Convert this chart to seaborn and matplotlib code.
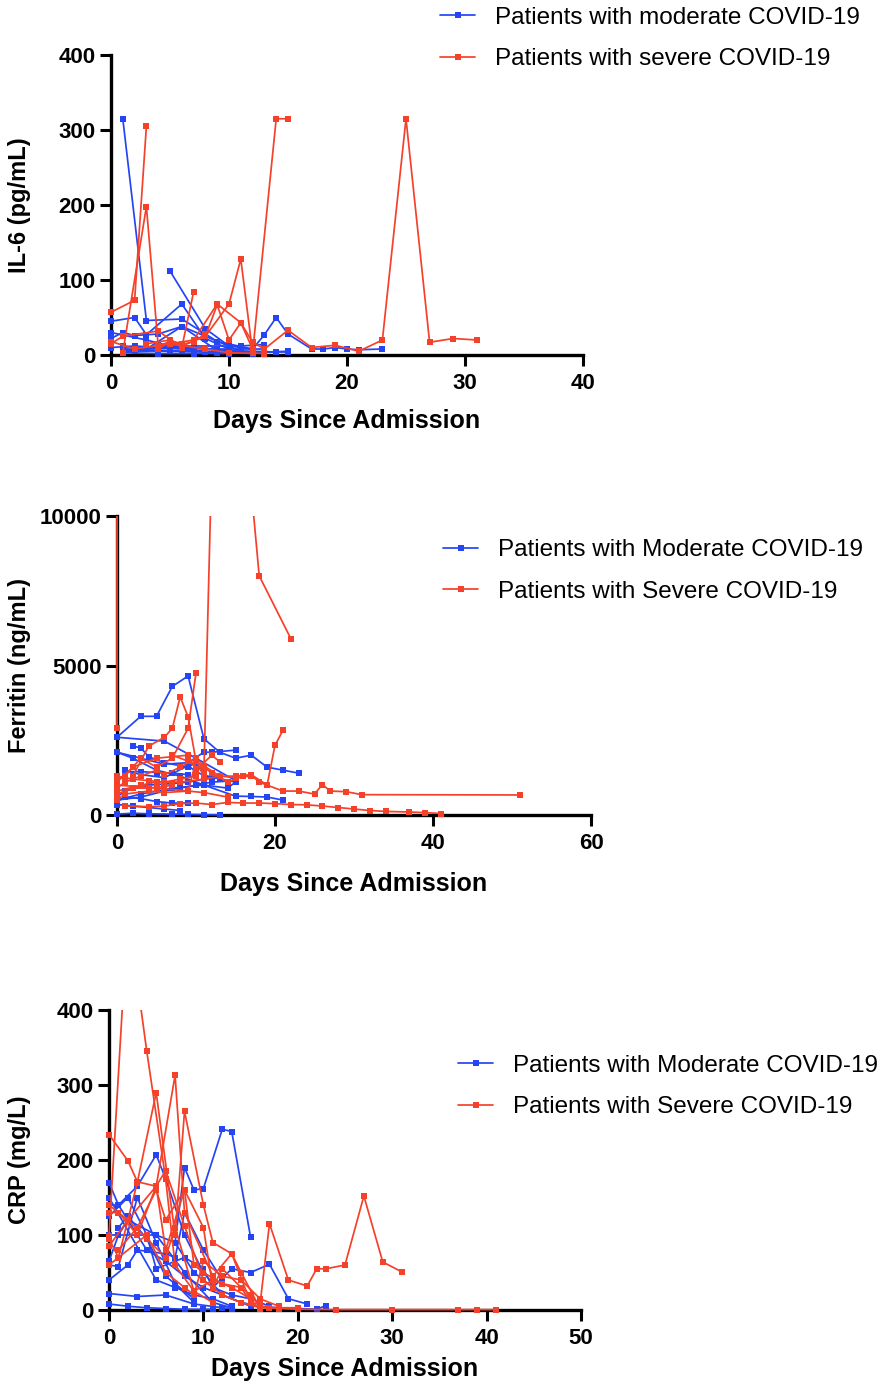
import pandas as pd
import matplotlib
matplotlib.use('Agg')
import matplotlib.pyplot as plt
from matplotlib.lines import Line2D
from matplotlib.transforms import blended_transform_factory, Bbox, TransformedBbox
import seaborn as sns

# ---- data: one inner list per patient (days since admission / measured value) ----
il6_mod_days = [[1, 3, 6, 9, 12], [5, 8, 10, 12, 13, 14, 15, 17, 18, 19, 20, 21, 23],
                [0, 2, 3, 6, 8, 10], [0, 1, 2, 4, 6, 9], [1, 6, 11, 13], [1, 5, 9, 13],
                [1, 4, 7, 10, 15], [2, 6, 10, 14], [0, 3, 5, 7, 10], [1, 3, 6, 8, 11],
                [4, 7, 9, 12], [1, 3, 5, 7, 9, 11, 13], [1, 2, 4, 6, 8, 10, 12, 13],
                [0, 2, 4, 6, 8], [1, 4, 8, 12, 15]]
il6_mod_vals = [[315, 46, 48, 18, 8], [112, 35, 12, 8, 27, 50, 28, 8, 8, 10, 8, 7, 8],
                [45, 50, 27, 68, 22, 8], [22, 30, 26, 28, 38, 6], [10, 12, 12, 14], [6, 5, 4, 3],
                [3, 2, 2, 2, 5], [8, 10, 6, 4], [30, 20, 12, 10, 6], [12, 8, 38, 25, 5],
                [14, 6, 3, 2], [8, 8, 9, 9, 8, 8, 8], [4, 5, 6, 5, 4, 3, 3, 3],
                [10, 12, 10, 8, 5], [7, 6, 5, 4, 4]]
il6_sev_days = [[0, 2, 3], [1, 3, 4, 5, 6], [0, 1, 4, 6, 7], [3, 5, 6, 7, 8],
                [4, 5, 6, 8, 9, 10, 11, 12], [8, 10, 11, 12, 14, 15], [5, 7, 9, 11, 12, 13],
                [13, 15, 17, 19, 21, 23, 25, 27, 29, 31], [0, 2, 5, 8, 10, 13]]
il6_sev_vals = [[57, 73, 305], [3, 198, 12, 18, 15], [15, 25, 32, 10, 84], [15, 20, 14, 18, 28],
                [8, 18, 12, 25, 67, 20, 43, 8], [25, 68, 128, 3, 315, 315], [15, 20, 68, 43, 17, 8],
                [8, 33, 10, 13, 5, 20, 315, 17, 22, 20], [18, 8, 15, 8, 3, 2]]

fer_mod_days = [[0, 3, 5, 7, 9, 11, 13, 15, 17, 19, 21, 23], [0, 6, 10, 15],
                [2, 3, 4, 6, 9, 10, 11, 15], [0, 3, 6, 9, 11, 12, 15], [1, 3, 5, 7, 9],
                [0, 1, 4, 7, 9, 11, 13], [0, 3, 7, 11, 15, 17, 19, 21], [0, 2, 5, 8, 11, 14, 15],
                [0, 1, 3, 5, 7, 9], [0, 2, 4, 7, 9, 11, 13], [0, 2, 4, 6, 8],
                [1, 3, 6, 9, 10, 12], [0, 3, 6, 8, 10, 12, 15]]
fer_mod_vals = [[2600, 3300, 3300, 4300, 4650, 2550, 2100, 1900, 2000, 1600, 1500, 1400],
                [2600, 2470, 1900, 1150], [2300, 2250, 1950, 1750, 1600, 1750, 1330, 1100],
                [2100, 1900, 1700, 1750, 2100, 2100, 2170], [1450, 1450, 1420, 1400, 1350],
                [600, 800, 1000, 1050, 1100, 1200, 1250], [500, 700, 900, 1000, 630, 620, 600, 500],
                [2100, 1900, 1500, 1300, 1000, 900, 1100], [450, 600, 550, 450, 400, 400],
                [30, 60, 40, 30, 20, 10, 5], [350, 300, 250, 200, 150],
                [1500, 1350, 1250, 1650, 1450, 1200], [500, 600, 800, 900, 1000, 1100, 1150]]
fer_sev_days = [[0, 0], [7, 9, 11, 13, 18, 22], [2, 4, 6, 7, 8, 9, 10, 11], [0, 1, 3, 5, 7, 9, 10],
                [0, 1, 3, 5, 6, 8, 10, 11, 13, 15, 17, 19, 20, 21],
                [0, 3, 5, 8, 11, 13, 15, 17, 18, 19, 21, 23, 25, 26, 27, 29, 31, 51],
                [1, 4, 6, 8, 10, 12, 14, 16, 18, 20, 22, 24, 26, 28, 30, 32, 34, 37, 39, 41],
                [0, 5, 9, 10, 12, 14, 16, 17, 19], [0, 2, 4, 6, 7], [0, 1, 4, 6, 9, 11, 14],
                [0, 2, 5, 9, 10, 12, 13], [0, 2, 4, 6, 8, 10]]
fer_sev_vals = [[2900, 40000], [2000, 1800, 1440, 22400, 8000, 5900],
                [1300, 2300, 2600, 2900, 3950, 3280, 1800, 1400],
                [1200, 1300, 1900, 1600, 1900, 2900, 4750],
                [900, 1100, 1300, 1500, 1350, 1600, 1900, 1650, 1300, 1250, 1300, 1000, 2330, 2830],
                [800, 1000, 1100, 1100, 1200, 1300, 1300, 1350, 1100, 1000, 800, 800, 700, 1020,
                 800, 780, 680, 670],
                [300, 280, 300, 380, 400, 350, 420, 400, 400, 380, 350, 340, 300, 250, 200, 150,
                 120, 100, 80, 50],
                [1000, 900, 800, 1800, 1400, 1100, 1300, 1350, 1000], [700, 900, 900, 950, 1000],
                [500, 700, 800, 750, 800, 750, 600], [1100, 1600, 1900, 2000, 1500, 2000, 1780],
                [1300, 1200, 1150, 1100, 1200, 1300]]

crp_mod_days = [[7, 8, 9, 10, 12, 13, 15], [0, 1, 3, 5, 6, 8, 10, 12, 14, 15],
                [0, 2, 4, 5, 7, 9, 11, 13, 15, 17, 19, 21],
                [0, 1, 2, 4, 6, 8, 10, 12, 14, 16, 18, 20, 22, 23], [0, 2, 4, 6, 8, 10, 11],
                [0, 3, 6, 9, 12, 13], [0, 1, 3, 5, 7, 9], [1, 2, 4, 6, 7, 9],
                [0, 2, 3, 6, 7, 8, 10, 12], [0, 4, 5, 8, 10, 11, 13, 15, 17], [0, 5, 7, 9, 11, 13],
                [0, 1, 2, 5, 8, 11, 13]]
crp_mod_vals = [[90, 190, 160, 162, 241, 238, 97], [170, 140, 165, 207, 175, 100, 50, 20, 10, 5],
                [125, 150, 100, 100, 90, 50, 30, 55, 50, 61, 15, 8],
                [140, 140, 120, 80, 65, 45, 30, 20, 10, 5, 3, 2, 1, 6], [8, 5, 3, 2, 1, 1, 1],
                [22, 18, 20, 8, 3, 2], [60, 58, 150, 90, 35, 10], [110, 125, 95, 45, 35, 15],
                [40, 60, 80, 75, 70, 130, 80, 40], [100, 100, 55, 70, 55, 30, 20, 15, 5],
                [150, 40, 30, 20, 15, 5], [65, 100, 120, 100, 50, 10, 3]]
crp_sev_days = [[0, 2, 4, 6, 7, 9, 11], [0, 2, 3, 5, 6, 8, 10, 12, 14, 16],
                [0, 2, 5, 7, 8, 11, 13, 15, 16, 17, 19, 21, 22, 23, 25, 27, 29, 31],
                [0, 1, 3, 5, 6, 8, 9, 10, 12, 14, 15, 16, 18, 20, 24, 30, 37, 39, 41],
                [0, 1, 3, 5, 7, 8, 10, 11, 13, 14, 16], [0, 4, 6, 8, 9, 10, 12, 14, 16, 18],
                [1, 3, 5, 6, 8, 10, 11, 12, 14, 15, 16, 17, 20], [0, 2, 4, 6, 7, 9, 11, 13, 15]]
crp_sev_vals = [[99, 530, 345, 175, 60, 25, 10], [234, 199, 171, 165, 186, 112, 40, 20, 10, 3],
                [85, 120, 165, 313, 130, 45, 75, 10, 8, 115, 40, 32, 55, 55, 60, 152, 64, 51],
                [130, 130, 100, 165, 80, 160, 60, 50, 35, 30, 10, 3, 2, 1, 0.5, 0.5, 0.5, 0.5, 0.5],
                [95, 70, 170, 290, 100, 265, 140, 90, 75, 50, 2], [60, 100, 50, 30, 20, 65, 45, 40, 15, 5],
                [80, 110, 160, 120, 160, 110, 30, 55, 30, 20, 5, 3, 3], [140, 120, 95, 70, 110, 25, 40, 30, 15]]

BLUE = '#2545f5'
RED = '#f5402a'


def to_frame(days, vals, group):
    rows = []
    for i, (d, v) in enumerate(zip(days, vals)):
        for x, y in zip(d, v):
            rows.append({'day': x, 'value': y, 'patient': f'{group}{i}', 'group': group})
    return pd.DataFrame(rows)


sns.set_style('ticks')
plt.rcParams['font.family'] = ['Liberation Sans', 'DejaVu Sans']
plt.rcParams['text.color'] = 'black'
plt.rcParams['axes.labelcolor'] = 'black'
plt.rcParams['xtick.color'] = 'black'
plt.rcParams['ytick.color'] = 'black'

W, H = 893, 1389
fig = plt.figure(figsize=(W / 100, H / 100), dpi=100)


def px_axes(x0, x1, ytop, ybot):
    return fig.add_axes([x0 / W, 1 - ybot / H, (x1 - x0) / W, (ybot - ytop) / H])


panels = [
    dict(box=(111, 583, 55, 355), mod=(il6_mod_days, il6_mod_vals), sev=(il6_sev_days, il6_sev_vals),
         ylab='IL-6 (pg/mL)', ylim=400, yt=[0, 100, 200, 300, 400], xlim=40, xt=[0, 10, 20, 30, 40],
         xlab_y=419, leg=(440, 38.5),
         labels=['Patients with moderate COVID-19', 'Patients with severe COVID-19']),
    dict(box=(117, 591, 516, 815), mod=(fer_mod_days, fer_mod_vals), sev=(fer_sev_days, fer_sev_vals),
         ylab='Ferritin (ng/mL)', ylim=10000, yt=[0, 5000, 10000], xlim=60, xt=[0, 20, 40, 60],
         xlab_y=882, leg=(443, 571),
         labels=['Patients with Moderate COVID-19', 'Patients with Severe COVID-19']),
    dict(box=(109, 581, 1010, 1310), mod=(crp_mod_days, crp_mod_vals), sev=(crp_sev_days, crp_sev_vals),
         ylab='CRP (mg/L)', ylim=400, yt=[0, 100, 200, 300, 400], xlim=50, xt=[0, 10, 20, 30, 40, 50],
         xlab_y=1367, leg=(458, 1086.5),
         labels=['Patients with Moderate COVID-19', 'Patients with Severe COVID-19']),
]

for p in panels:
    ax = px_axes(*p['box'])
    df = pd.concat([to_frame(*p['mod'], 'moderate'), to_frame(*p['sev'], 'severe')])
    sns.lineplot(data=df, x='day', y='value', hue='group', units='patient', estimator=None,
                 palette={'moderate': BLUE, 'severe': RED}, marker='s', markersize=3.8,
                 markeredgewidth=0, linewidth=1.25, legend=False, ax=ax, zorder=3)
    # let marks on the axis lines show fully, but keep the top clipped
    clip = TransformedBbox(Bbox([[-0.012, -0.012], [1.0, 1.0]]), ax.transAxes)
    for ln in ax.lines:
        ln.set_clip_box(clip)
    ax.set_xlim(0, p['xlim'])
    ax.set_ylim(0, p['ylim'])
    ax.set_xticks(p['xt'])
    ax.set_yticks(p['yt'])
    sns.despine(ax=ax)
    for s in ['left', 'bottom']:
        ax.spines[s].set_linewidth(2.4)
        ax.spines[s].set_color('black')
    ax.tick_params(axis='both', length=8, width=2.2, color='black', labelsize=16)
    ax.tick_params(axis='x', pad=5)
    ax.tick_params(axis='y', pad=3)
    for lab in ax.get_xticklabels() + ax.get_yticklabels():
        lab.set_fontweight('bold')
    ax.set_xlabel('Days Since Admission', fontsize=18, fontweight='bold')
    ax.set_ylabel(p['ylab'], fontsize=17, fontweight='bold')
    x0, x1, _, _ = p['box']
    ax.xaxis.set_label_coords((x0 + x1) / 2 / W, 1 - (p['xlab_y'] - 10) / H, transform=fig.transFigure)
    ax.yaxis.set_label_coords(31 / W, 0.5, transform=blended_transform_factory(fig.transFigure, ax.transAxes))

    handles = [Line2D([], [], color=BLUE, lw=1.25, marker='s', ms=3.8, mew=0),
               Line2D([], [], color=RED, lw=1.25, marker='s', ms=3.8, mew=0)]
    lx, ly = p['leg']
    fig.legend(handles, p['labels'], loc='center left', bbox_to_anchor=(lx / W, 1 - ly / H),
               frameon=False, fontsize=17.5, handlelength=1.45, handletextpad=0.8,
               labelspacing=0.8, borderpad=0, borderaxespad=0, numpoints=1)

fig.savefig('out.png', dpi=100)
